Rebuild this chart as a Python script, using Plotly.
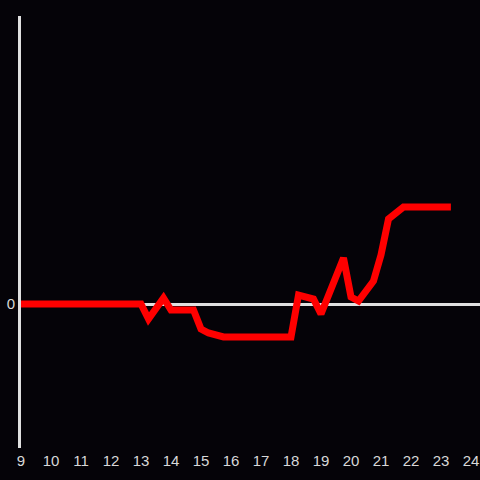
import plotly.graph_objects as go

hours = [9, 12.75, 13, 13.25, 13.75, 14, 14.75, 15, 15.25, 15.75, 18,
         18.25, 18.75, 19, 19.25, 19.75, 20, 20.25, 20.75, 21, 21.25,
         21.75, 23.33]
values = [0, 0, 0, -0.15, 0.06, -0.06, -0.06, -0.25, -0.29, -0.33, -0.33,
          0.09, 0.05, -0.10, 0.10, 0.46, 0.07, 0.03, 0.23, 0.49, 0.85,
          0.97, 0.97]
x_ticks = list(range(9, 25))

BG = "#050308"
AXIS = "#e0e0e0"

fig = go.Figure()
fig.add_trace(go.Scatter(
    x=hours, y=values, mode="lines",
    line=dict(color="#ff0000", width=7),
    hoverinfo="skip",
))
fig.update_layout(
    width=480, height=480,
    paper_bgcolor=BG, plot_bgcolor=BG,
    margin=dict(l=21, r=0, t=16, b=32),
    showlegend=False,
    font=dict(family="Liberation Sans", size=15, color="#d8d8d8"),
    xaxis=dict(
        range=[9, 24.3], tickvals=x_ticks, ticks="", automargin=False,
        showgrid=False, zeroline=False, showline=False, ticklabelstandoff=2,
    ),
    yaxis=dict(
        range=[-1.44, 2.88], tickvals=[0], ticks="", automargin=False,
        showgrid=False, zeroline=True, zerolinecolor=AXIS,
        zerolinewidth=3, showline=True, linecolor=AXIS, linewidth=3,
    ),
)
fig.write_html("out.html", config={"displayModeBar": False},
               post_script="document.body.style.margin='0';")
